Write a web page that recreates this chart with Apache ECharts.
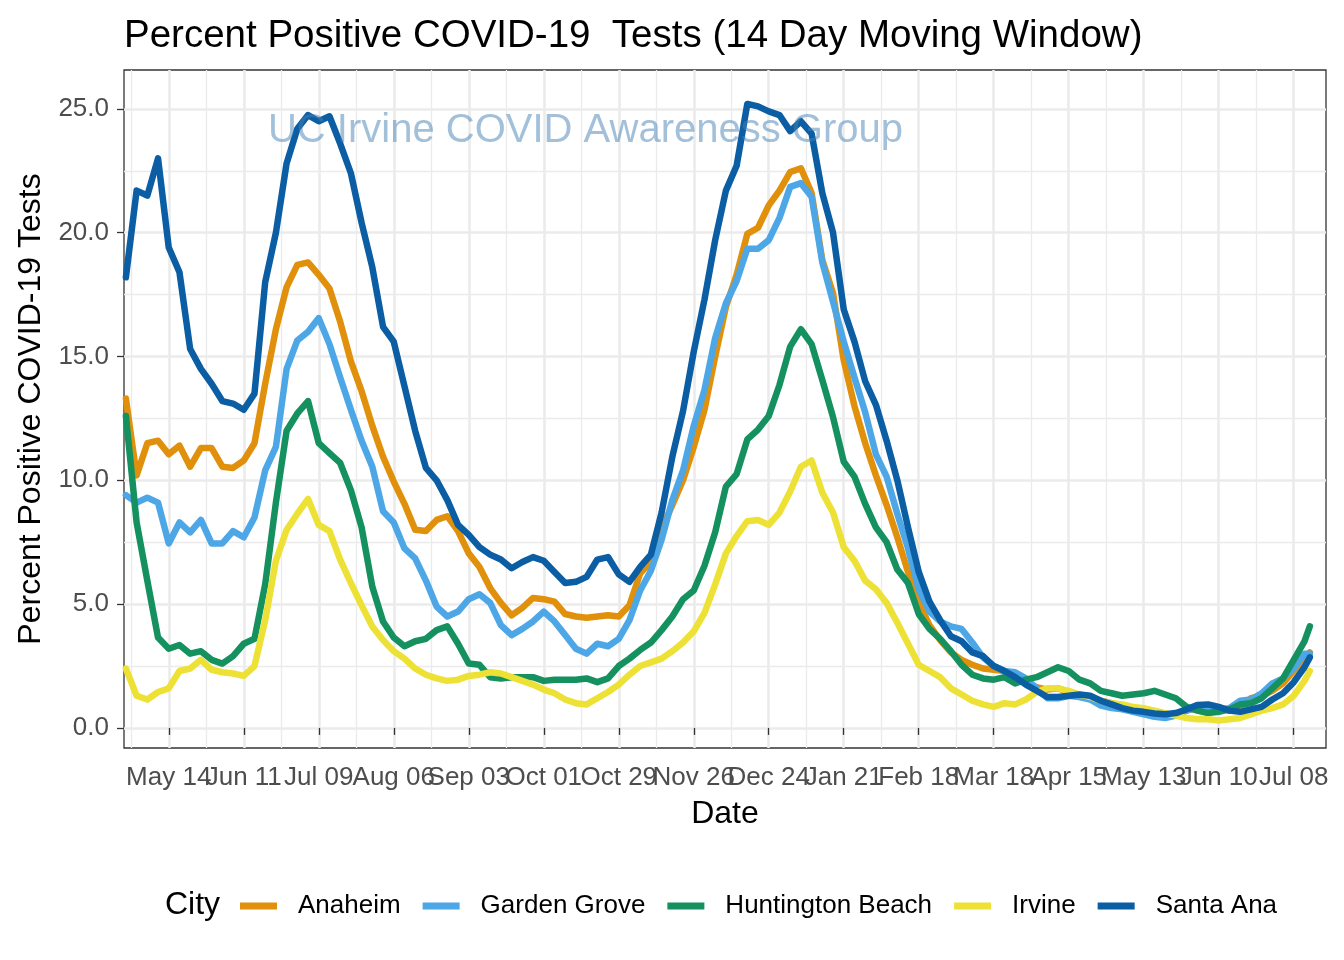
<!DOCTYPE html>
<html>
<head>
<meta charset="utf-8">
<script src="https://cdn.jsdelivr.net/npm/echarts@6/dist/echarts.min.js"></script>
<style>
html,body{margin:0;padding:0;background:#ffffff;}
#chart{width:1344px;height:960px;}
</style>
</head>
<body>
<div id="chart"></div>
<script>
// ---------- data ----------
const dates = [
'2020-04-28','2020-05-02','2020-05-06','2020-05-10','2020-05-14','2020-05-18','2020-05-22','2020-05-26','2020-05-30','2020-06-03',
'2020-06-07','2020-06-11','2020-06-15','2020-06-19','2020-06-23','2020-06-27','2020-07-01','2020-07-05','2020-07-09','2020-07-13',
'2020-07-17','2020-07-21','2020-07-25','2020-07-29','2020-08-02','2020-08-06','2020-08-10','2020-08-14','2020-08-18','2020-08-22',
'2020-08-26','2020-08-30','2020-09-03','2020-09-07','2020-09-11','2020-09-15','2020-09-19','2020-09-23','2020-09-27','2020-10-01',
'2020-10-05','2020-10-09','2020-10-13','2020-10-17','2020-10-21','2020-10-25','2020-10-29','2020-11-02','2020-11-06','2020-11-10',
'2020-11-14','2020-11-18','2020-11-22','2020-11-26','2020-11-30','2020-12-04','2020-12-08','2020-12-12','2020-12-16','2020-12-20',
'2020-12-24','2020-12-28','2021-01-01','2021-01-05','2021-01-09','2021-01-13','2021-01-17','2021-01-21','2021-01-25','2021-01-29',
'2021-02-02','2021-02-06','2021-02-10','2021-02-14','2021-02-18','2021-02-22','2021-02-26','2021-03-02','2021-03-06','2021-03-10',
'2021-03-14','2021-03-18','2021-03-22','2021-03-26','2021-03-30','2021-04-03','2021-04-07','2021-04-11','2021-04-15','2021-04-19',
'2021-04-23','2021-04-27','2021-05-01','2021-05-05','2021-05-09','2021-05-13','2021-05-17','2021-05-21','2021-05-25','2021-05-29',
'2021-06-02','2021-06-06','2021-06-10','2021-06-14','2021-06-18','2021-06-22','2021-06-26','2021-06-30','2021-07-04','2021-07-08',
'2021-07-12','2021-07-14'
];

const anaheim = [
13.3,10.2,11.5,11.6,11.05,11.4,10.55,11.3,11.3,10.55,
10.5,10.8,11.5,13.9,16.1,17.8,18.7,18.8,18.3,17.75,
16.4,14.8,13.6,12.2,10.95,9.95,9.05,8.0,7.95,8.4,
8.55,7.95,7.05,6.5,5.65,5.05,4.55,4.85,5.25,5.2,
5.1,4.6,4.5,4.45,4.5,4.55,4.5,4.95,6.25,6.7,
8.05,9.0,10.0,11.35,12.85,15.0,17.0,18.3,19.95,20.2,
21.1,21.7,22.45,22.6,21.6,18.9,17.55,14.85,13.0,11.5,
10.2,9.0,7.7,6.3,5.05,4.15,3.55,3.05,2.75,2.55,
2.4,2.35,2.3,2.05,1.85,1.65,1.55,1.6,1.45,1.3,
1.25,1.1,1.0,0.9,0.8,0.7,0.6,0.55,0.55,0.7,
0.8,0.85,0.8,0.7,0.8,1.2,1.3,1.5,1.8,2.3,
2.8,3.05
];

const gardenGrove = [
9.4,9.1,9.3,9.1,7.45,8.3,7.9,8.4,7.45,7.45,
7.95,7.7,8.5,10.4,11.35,14.5,15.65,16.0,16.55,15.5,
14.15,12.85,11.6,10.55,8.75,8.3,7.25,6.85,5.95,4.9,
4.5,4.7,5.2,5.4,5.05,4.15,3.75,4.0,4.3,4.7,
4.3,3.75,3.2,3.0,3.4,3.3,3.6,4.35,5.55,6.35,
7.6,9.2,10.4,12.2,13.65,15.75,17.15,18.05,19.35,19.35,
19.7,20.6,21.85,22.0,21.45,18.8,17.2,15.6,14.15,12.75,
11.05,10.15,8.65,7.25,5.6,4.7,4.3,4.1,4.0,3.45,
2.85,2.5,2.3,2.25,2.0,1.6,1.2,1.2,1.3,1.25,
1.15,0.9,0.8,0.75,0.65,0.55,0.45,0.4,0.5,0.7,
0.85,0.85,0.75,0.8,1.1,1.15,1.4,1.8,2.0,2.4,
3.0,3.0
];

const huntingtonBeach = [
12.6,8.3,5.95,3.65,3.2,3.35,3.0,3.1,2.75,2.6,
2.9,3.4,3.6,5.8,9.1,12.0,12.7,13.2,11.5,11.1,
10.7,9.6,8.1,5.7,4.3,3.65,3.3,3.5,3.6,3.95,
4.1,3.4,2.6,2.55,2.05,2.0,2.05,2.05,2.05,1.9,
1.95,1.95,1.95,2.0,1.85,2.0,2.5,2.8,3.15,3.45,
3.95,4.5,5.2,5.55,6.55,7.9,9.75,10.25,11.65,12.05,
12.6,13.85,15.4,16.1,15.5,14.05,12.55,10.75,10.15,9.05,
8.1,7.5,6.4,5.85,4.6,4.0,3.6,3.1,2.55,2.15,
2.0,1.95,2.05,1.8,1.95,2.05,2.25,2.45,2.3,1.95,
1.8,1.5,1.4,1.3,1.35,1.4,1.5,1.35,1.2,0.85,
0.7,0.6,0.65,0.75,0.95,1.0,1.2,1.6,2.0,2.75,
3.5,4.1
];

const irvine = [
2.4,1.3,1.15,1.45,1.6,2.3,2.4,2.75,2.35,2.25,
2.2,2.1,2.5,4.35,6.75,8.0,8.65,9.25,8.2,7.95,
6.8,5.85,4.95,4.1,3.55,3.1,2.8,2.4,2.15,2.0,
1.9,1.95,2.1,2.15,2.25,2.2,2.05,1.9,1.75,1.55,
1.4,1.15,1.0,0.95,1.2,1.45,1.75,2.15,2.5,2.65,
2.8,3.1,3.45,3.9,4.65,5.8,7.05,7.75,8.35,8.4,
8.2,8.7,9.55,10.55,10.8,9.5,8.7,7.3,6.75,5.95,
5.6,5.05,4.25,3.4,2.55,2.3,2.05,1.6,1.35,1.1,
0.95,0.85,1.0,0.95,1.15,1.45,1.6,1.6,1.5,1.35,
1.25,1.1,1.0,0.95,0.85,0.8,0.7,0.6,0.5,0.4,
0.35,0.35,0.3,0.35,0.4,0.55,0.7,0.8,0.95,1.3,
1.9,2.3
];

const santaAna = [
18.2,21.7,21.5,23.0,19.4,18.4,15.3,14.5,13.9,13.2,
13.1,12.85,13.5,18.0,20.0,22.8,24.2,24.75,24.5,24.7,
23.6,22.4,20.4,18.6,16.2,15.6,13.8,12.0,10.5,10.0,
9.2,8.2,7.8,7.3,7.0,6.8,6.45,6.7,6.9,6.75,
6.3,5.85,5.9,6.1,6.8,6.9,6.2,5.9,6.5,7.0,
8.7,10.95,12.8,15.2,17.3,19.7,21.7,22.7,25.2,25.1,
24.9,24.75,24.1,24.5,24.0,21.6,20.0,16.9,15.6,14.0,
13.05,11.6,10.0,8.1,6.3,5.1,4.35,3.7,3.5,3.05,
2.9,2.5,2.3,2.05,1.75,1.5,1.25,1.25,1.3,1.35,
1.3,1.1,0.95,0.8,0.7,0.65,0.58,0.55,0.6,0.75,
0.93,0.95,0.85,0.7,0.65,0.75,0.85,1.15,1.4,1.85,
2.45,2.85
];

const cityNames = ['Anaheim','Garden Grove','Huntington Beach','Irvine','Santa Ana'];
const cityColors = ['#E0900A','#4DA6E5','#15905F','#EDE135','#0B5EA3'];

const tickDates = ['2020-05-14','2020-06-11','2020-07-09','2020-08-06','2020-09-03','2020-10-01','2020-10-29','2020-11-26',
                   '2020-12-24','2021-01-21','2021-02-18','2021-03-18','2021-04-15','2021-05-13','2021-06-10','2021-07-08'];
const tickLabels = ['May 14','Jun 11','Jul 09','Aug 06','Sep 03','Oct 01','Oct 29','Nov 26',
                    'Dec 24','Jan 21','Feb 18','Mar 18','Apr 15','May 13','Jun 10','Jul 08'];
const minorTickDates = ['2020-04-30','2020-05-28','2020-06-25','2020-07-23','2020-08-20','2020-09-17','2020-10-15','2020-11-12',
                        '2020-12-10','2021-01-07','2021-02-04','2021-03-04','2021-04-01','2021-04-29','2021-05-27','2021-06-24'];
const xRange = ['2020-04-27T07','2021-07-20T01'];
const yTicks = [0,5,10,15,20,25];
const yMinorTicks = [2.5,7.5,12.5,17.5,22.5];
const yRange = [-0.81, 26.57];

// ---------- helpers ----------
function ts(s){
  const parts = s.split('T');
  const d = parts[0].split('-').map(Number);
  const h = parts[1] ? Number(parts[1]) : 0;
  return new Date(d[0], d[1]-1, d[2], h).getTime();
}
const tickTs = tickDates.map(ts);
const evenTickTs = tickTs.filter((v, i) => i % 2 === 0);
const oddTickTs = tickTs.filter((v, i) => i % 2 === 1);
const minorTs = minorTickDates.map(ts);
const allValues = [anaheim, gardenGrove, huntingtonBeach, irvine, santaAna];

const FONT = 'Liberation Sans, Arial, sans-serif';

function dateLabel(v) {
  for (let i = 0; i < tickTs.length; i++) { if (Math.abs(tickTs[i] - v) < 7200000) return tickLabels[i]; }
  return '';
}
const xLabelStyle = { color: '#4D4D4D', fontFamily: FONT, fontSize: 26, margin: 17, hideOverlap: false, formatter: dateLabel };

const series = cityNames.map((name, k) => ({
  name: name,
  type: 'line',
  xAxisIndex: 0,
  yAxisIndex: 0,
  data: dates.map((d, i) => [ts(d), allValues[k][i]]),
  showSymbol: false,
  symbol: 'none',
  color: cityColors[k],
  lineStyle: { width: 6.5, color: cityColors[k], cap: 'round', join: 'round' },
  emphasis: { disabled: true },
  animation: false
}));

const chart = echarts.init(document.getElementById('chart'), null, { renderer: 'canvas' });
chart.setOption({
  animation: false,
  backgroundColor: '#ffffff',
  title: {
    text: 'Percent Positive COVID-19  Tests (14 Day Moving Window)',
    left: 119, top: 12,
    textStyle: { fontFamily: FONT, fontSize: 38.5, fontWeight: 'normal', color: '#000000' }
  },
  grid: {
    left: 124, right: 18, top: 70, bottom: 212,
    show: true, borderColor: '#333333', borderWidth: 1.3, backgroundColor: '#ffffff',
    containLabel: false, outerBoundsMode: 'none'
  },
  legend: {
    data: cityNames,
    left: 240, top: 893,
    orient: 'horizontal',
    icon: 'rect',
    itemWidth: 37, itemHeight: 7,
    itemGap: 22,
    padding: 0,
    selectedMode: false,
    textStyle: { fontFamily: FONT, fontSize: 26, color: '#000000', padding: [0, 0, 0, 16] }
  },
  xAxis: [
    {
      type: 'value',
      min: ts(xRange[0]), max: ts(xRange[1]),
      position: 'bottom',
      axisLine: { show: false },
      axisTick: { show: true, customValues: tickTs, length: 7, lineStyle: { color: '#333333', width: 1.3 } },
      axisLabel: Object.assign({ customValues: evenTickTs, showMinLabel: true, showMaxLabel: true }, xLabelStyle),
      splitLine: { show: true, lineStyle: { color: '#EBEBEB', width: 2.6 } },
      name: 'Date', nameLocation: 'middle', nameGap: 50,
      nameTextStyle: { fontFamily: FONT, fontSize: 32, color: '#000000', verticalAlign: 'top' }
    },
    {
      type: 'value',
      min: ts(xRange[0]), max: ts(xRange[1]),
      position: 'bottom',
      axisLine: { show: false },
      axisTick: { show: false, customValues: minorTs },
      axisLabel: Object.assign({ show: true, customValues: oddTickTs, showMinLabel: true, showMaxLabel: true }, xLabelStyle),
      splitLine: { show: true, lineStyle: { color: '#EBEBEB', width: 1.3 } }
    }
  ],
  yAxis: [
    {
      type: 'value',
      min: yRange[0], max: yRange[1],
      axisLine: { show: false },
      axisTick: { show: true, customValues: yTicks, length: 7, lineStyle: { color: '#333333', width: 1.3 } },
      axisLabel: {
        customValues: yTicks, hideOverlap: false, showMinLabel: true, showMaxLabel: true,
        color: '#4D4D4D', fontFamily: FONT, fontSize: 26, margin: 15,
        formatter: function (v) { return Number(v).toFixed(1); }
      },
      splitLine: { show: true, lineStyle: { color: '#EBEBEB', width: 2.6 } },
      name: 'Percent Positive COVID-19 Tests', nameLocation: 'middle', nameGap: 76, nameRotate: 90,
      nameTextStyle: { fontFamily: FONT, fontSize: 32, color: '#000000' }
    },
    {
      type: 'value',
      min: yRange[0], max: yRange[1],
      position: 'left',
      axisLine: { show: false },
      axisTick: { show: false, customValues: yMinorTicks },
      axisLabel: { show: false, customValues: yMinorTicks },
      splitLine: { show: true, lineStyle: { color: '#EBEBEB', width: 1.3 } }
    }
  ],
  graphic: [
    {
      type: 'text', x: 585.5, y: 131, z: 100, silent: true,
      style: { text: 'UC Irvine COVID Awareness Group', fontFamily: FONT, fontSize: 40,
               fill: 'rgba(70,130,180,0.5)', align: 'center', verticalAlign: 'middle' }
    },
    {
      type: 'text', x: 165, y: 905, z: 100, silent: true,
      style: { text: 'City', fontFamily: FONT, fontSize: 32, fill: '#000000', align: 'left', verticalAlign: 'middle' }
    }
  ],
  series: series
});
</script>
</body>
</html>
